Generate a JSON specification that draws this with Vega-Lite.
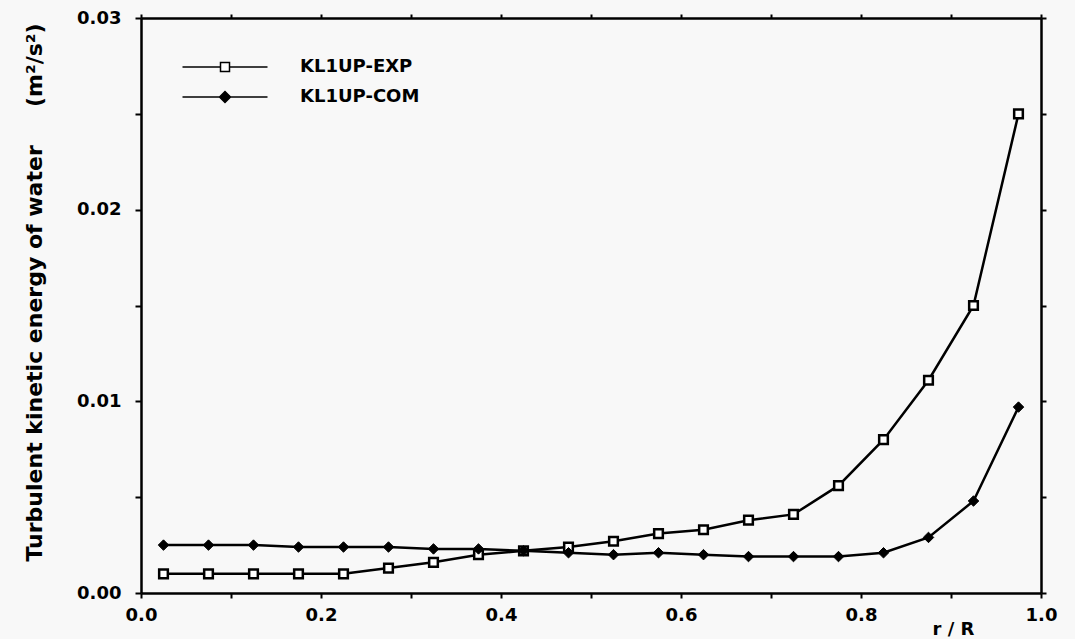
{
  "$schema": "https://vega.github.io/schema/vega-lite/v6.json",
  "width": 900,
  "height": 575,
  "autosize": {"type": "none"},
  "padding": {"left": 141, "top": 18, "right": 34, "bottom": 46},
  "background": "#f8f8f8",
  "config": {
    "view": {"stroke": null},
    "font": "DejaVu Sans",
    "axis": {
      "grid": false,
      "domainColor": "black",
      "domainWidth": 2.5,
      "tickColor": "black",
      "tickWidth": 2,
      "labelFont": "DejaVu Sans",
      "labelFontWeight": "bold",
      "labelColor": "black",
      "labelFontSize": 18,
      "labelFlush": false,
      "labelOverlap": false,
      "titleFont": "DejaVu Sans",
      "titleFontWeight": "bold",
      "titleColor": "black"
    }
  },
  "data": {
    "values": [
      {"r": 0.025, "k": 0.0010, "series": "KL1UP-EXP"},
      {"r": 0.075, "k": 0.0010, "series": "KL1UP-EXP"},
      {"r": 0.125, "k": 0.0010, "series": "KL1UP-EXP"},
      {"r": 0.175, "k": 0.0010, "series": "KL1UP-EXP"},
      {"r": 0.225, "k": 0.0010, "series": "KL1UP-EXP"},
      {"r": 0.275, "k": 0.0013, "series": "KL1UP-EXP"},
      {"r": 0.325, "k": 0.0016, "series": "KL1UP-EXP"},
      {"r": 0.375, "k": 0.0020, "series": "KL1UP-EXP"},
      {"r": 0.425, "k": 0.0022, "series": "KL1UP-EXP"},
      {"r": 0.475, "k": 0.0024, "series": "KL1UP-EXP"},
      {"r": 0.525, "k": 0.0027, "series": "KL1UP-EXP"},
      {"r": 0.575, "k": 0.0031, "series": "KL1UP-EXP"},
      {"r": 0.625, "k": 0.0033, "series": "KL1UP-EXP"},
      {"r": 0.675, "k": 0.0038, "series": "KL1UP-EXP"},
      {"r": 0.725, "k": 0.0041, "series": "KL1UP-EXP"},
      {"r": 0.775, "k": 0.0056, "series": "KL1UP-EXP"},
      {"r": 0.825, "k": 0.0080, "series": "KL1UP-EXP"},
      {"r": 0.875, "k": 0.0111, "series": "KL1UP-EXP"},
      {"r": 0.925, "k": 0.0150, "series": "KL1UP-EXP"},
      {"r": 0.975, "k": 0.0250, "series": "KL1UP-EXP"},
      {"r": 0.025, "k": 0.0025, "series": "KL1UP-COM"},
      {"r": 0.075, "k": 0.0025, "series": "KL1UP-COM"},
      {"r": 0.125, "k": 0.0025, "series": "KL1UP-COM"},
      {"r": 0.175, "k": 0.0024, "series": "KL1UP-COM"},
      {"r": 0.225, "k": 0.0024, "series": "KL1UP-COM"},
      {"r": 0.275, "k": 0.0024, "series": "KL1UP-COM"},
      {"r": 0.325, "k": 0.0023, "series": "KL1UP-COM"},
      {"r": 0.375, "k": 0.0023, "series": "KL1UP-COM"},
      {"r": 0.425, "k": 0.0022, "series": "KL1UP-COM"},
      {"r": 0.475, "k": 0.0021, "series": "KL1UP-COM"},
      {"r": 0.525, "k": 0.0020, "series": "KL1UP-COM"},
      {"r": 0.575, "k": 0.0021, "series": "KL1UP-COM"},
      {"r": 0.625, "k": 0.0020, "series": "KL1UP-COM"},
      {"r": 0.675, "k": 0.0019, "series": "KL1UP-COM"},
      {"r": 0.725, "k": 0.0019, "series": "KL1UP-COM"},
      {"r": 0.775, "k": 0.0019, "series": "KL1UP-COM"},
      {"r": 0.825, "k": 0.0021, "series": "KL1UP-COM"},
      {"r": 0.875, "k": 0.0029, "series": "KL1UP-COM"},
      {"r": 0.925, "k": 0.0048, "series": "KL1UP-COM"},
      {"r": 0.975, "k": 0.0097, "series": "KL1UP-COM"}
    ]
  },
  "layer": [
    {
      "mark": {"type": "line", "color": "black", "strokeWidth": 2.5},
      "encoding": {
        "x": {
          "field": "r", "type": "quantitative",
          "scale": {"domain": [0, 1], "nice": false, "zero": false},
          "axis": {
            "orient": "bottom",
            "values": [0, 0.1, 0.2, 0.3, 0.4, 0.5, 0.6, 0.7, 0.8, 0.9, 1.0],
            "labelExpr": "round(datum.value*10)%2==0 ? format(datum.value,'.1f') : ''",
            "tickSize": 5,
            "labelPadding": 8,
            "title": "r / R",
            "titleFontSize": 18,
            "titleX": 812,
            "titleY": 36,
            "titleAlign": "center",
            "titleBaseline": "middle"
          }
        },
        "y": {
          "field": "k", "type": "quantitative",
          "scale": {"domain": [0, 0.03], "nice": false},
          "axis": {
            "orient": "left",
            "values": [0, 0.005, 0.01, 0.015, 0.02, 0.025, 0.03],
            "labelExpr": "round(datum.value*1000)%10==0 ? format(datum.value,'.2f') : ''",
            "tickSize": 6,
            "labelPadding": 14,
            "title": "Turbulent kinetic energy of water\u00a0\u00a0\u00a0\u00a0\u00a0(m²/s²)",
            "titleFontSize": 22,
            "titleX": -107,
            "titleY": 274,
            "titleAlign": "center",
            "titleBaseline": "middle",
            "titleAngle": 270
          }
        },
        "detail": {"field": "series"}
      }
    },
    {
      "mark": {"type": "point", "filled": true, "stroke": "black", "opacity": 1},
      "encoding": {
        "x": {
          "field": "r", "type": "quantitative",
          "scale": {"domain": [0, 1], "nice": false, "zero": false},
          "axis": {
            "orient": "top",
            "values": [0, 0.1, 0.2, 0.3, 0.4, 0.5, 0.6, 0.7, 0.8, 0.9, 1.0],
            "labels": false,
            "tickSize": 4,
            "title": null
          }
        },
        "y": {
          "field": "k", "type": "quantitative",
          "scale": {"domain": [0, 0.03], "nice": false},
          "axis": {
            "orient": "right",
            "values": [0, 0.005, 0.01, 0.015, 0.02, 0.025, 0.03],
            "labels": false,
            "tickSize": 5,
            "title": null
          }
        },
        "shape": {
          "field": "series", "type": "nominal",
          "scale": {"domain": ["KL1UP-EXP", "KL1UP-COM"], "range": ["square", "diamond"]},
          "legend": null
        },
        "fill": {
          "field": "series", "type": "nominal",
          "scale": {"domain": ["KL1UP-EXP", "KL1UP-COM"], "range": ["white", "black"]},
          "legend": null
        },
        "size": {
          "field": "series", "type": "nominal",
          "scale": {"domain": ["KL1UP-EXP", "KL1UP-COM"], "range": [75, 110]},
          "legend": null
        },
        "strokeWidth": {
          "field": "series", "type": "nominal",
          "scale": {"domain": ["KL1UP-EXP", "KL1UP-COM"], "range": [2.5, 1]},
          "legend": null
        }
      }
    },
    {
      "transform": [{"filter": "false"}],
      "mark": {"type": "point", "filled": true, "stroke": "black", "strokeWidth": 2.5, "opacity": 1},
      "encoding": {
        "x": {"field": "r", "type": "quantitative", "axis": null},
        "y": {"field": "k", "type": "quantitative", "axis": null},
        "shape": {
          "field": "series", "type": "nominal",
          "scale": {"domain": ["KL1UP-EXP", "KL1UP-COM"], "range": ["M-8.5,0H-0.9M0.9,0H8.5M-0.9,-0.9H0.9V0.9H-0.9Z", "M-8.5,0H-1.1M1.1,0H8.5M-1.1,0L0,-1.1L1.1,0L0,1.1Z"]},
          "legend": {
            "orient": "none",
            "legendX": 75,
            "legendY": 40,
            "title": null,
            "symbolSize": 100,
            "labelFont": "DejaVu Sans",
            "labelFontWeight": "bold",
            "labelFontSize": 18,
            "labelColor": "black",
            "labelOffset": 66,
            "rowPadding": 12,
            "padding": 0,
            "encode": {
              "symbols": {
                "stroke": {"value": "black"},
                "strokeWidth": {"value": 2.5},
                "opacity": {"value": 1}
              }
            }
          }
        },
        "fill": {
          "field": "series", "type": "nominal",
          "scale": {"domain": ["KL1UP-EXP", "KL1UP-COM"], "range": ["white", "black"]}
        }
      }
    }
  ],
  "resolve": {
    "axis": {"x": "independent", "y": "independent"},
    "scale": {"shape": "independent", "fill": "independent"},
    "legend": {"shape": "independent", "fill": "independent"}
  }
}
